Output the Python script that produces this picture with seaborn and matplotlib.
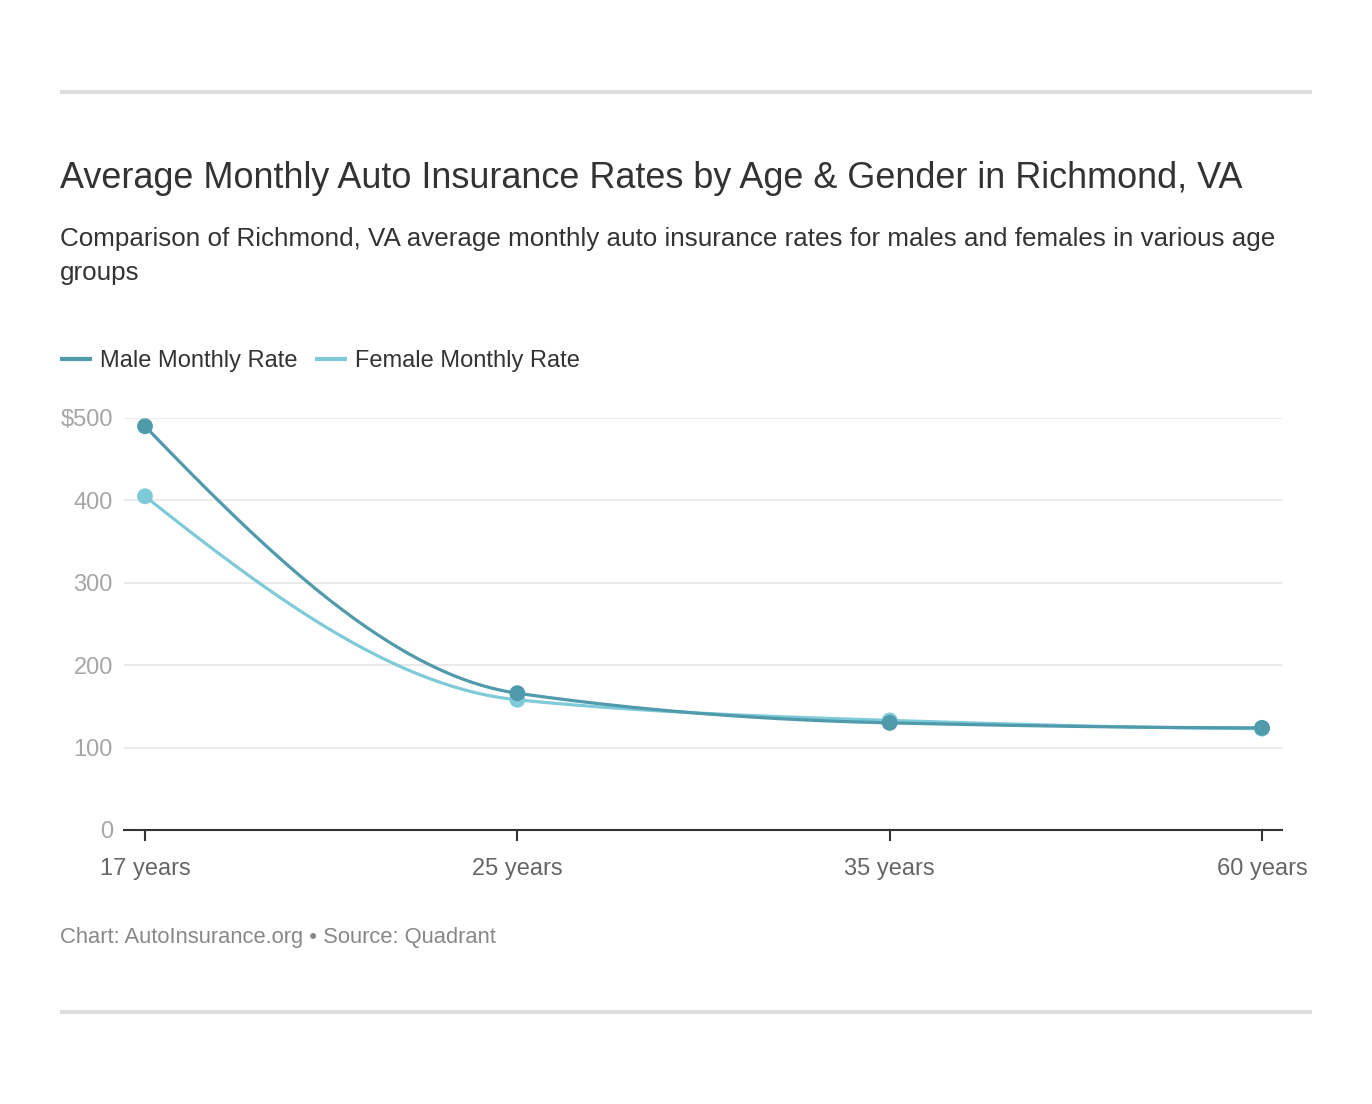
import numpy as np
import pandas as pd
import seaborn as sns
import matplotlib.pyplot as plt
from matplotlib.lines import Line2D

ages = ["17 years", "25 years", "35 years", "60 years"]
male_rate = [490, 166, 130, 124]
female_rate = [405, 158, 133, 123]
series_names = ["Male Monthly Rate", "Female Monthly Rate"]
series_colors = ["#4f9aab", "#7ecad9"]
y_ticks = [0, 100, 200, 300, 400, 500]
y_labels = ["0", "100", "200", "300", "400", "$500"]


def pchip_curve(xs, ys, n=60):
    # monotone cubic between the points, like the smooth line of the original
    xs = np.asarray(xs, float)
    ys = np.asarray(ys, float)
    h = np.diff(xs)
    d = np.diff(ys) / h
    m = np.zeros_like(ys)
    for k in range(1, len(xs) - 1):
        if d[k - 1] * d[k] > 0:
            w1 = 2 * h[k] + h[k - 1]
            w2 = h[k] + 2 * h[k - 1]
            m[k] = (w1 + w2) / (w1 / d[k - 1] + w2 / d[k])
    m[0] = ((2 * h[0] + h[1]) * d[0] - h[0] * d[1]) / (h[0] + h[1])
    if np.sign(m[0]) != np.sign(d[0]):
        m[0] = 0
    m[-1] = ((2 * h[-1] + h[-2]) * d[-1] - h[-1] * d[-2]) / (h[-1] + h[-2])
    if np.sign(m[-1]) != np.sign(d[-1]):
        m[-1] = 0
    out_x, out_y = [], []
    for k in range(len(xs) - 1):
        t = np.linspace(0, 1, n)
        h00 = 2 * t**3 - 3 * t**2 + 1
        h10 = t**3 - 2 * t**2 + t
        h01 = -2 * t**3 + 3 * t**2
        h11 = t**3 - t**2
        out_x.extend(xs[k] + t * h[k])
        out_y.extend(h00 * ys[k] + h10 * h[k] * m[k] + h01 * ys[k + 1] + h11 * h[k] * m[k + 1])
    return out_x, out_y


pos = np.arange(len(ages))
points = pd.DataFrame({
    "x": np.concatenate([pos, pos]),
    "rate": female_rate + male_rate,
    "series": [series_names[1]] * len(ages) + [series_names[0]] * len(ages),
})

curves = []
for name, vals in [(series_names[1], female_rate), (series_names[0], male_rate)]:
    cx, cy = pchip_curve(pos, vals)
    curves.append(pd.DataFrame({"x": cx, "rate": cy, "series": name}))
curves = pd.concat(curves, ignore_index=True)

sns.set_style("white")
plt.rcParams['font.family'] = ['Liberation Sans', 'DejaVu Sans']

fig = plt.figure(figsize=(13.72, 11.04), dpi=100)
ax = fig.add_axes([124 / 1372, 274 / 1104, 1158 / 1372, 412 / 1104])

palette = {series_names[0]: series_colors[0], series_names[1]: series_colors[1]}
for name in [series_names[1], series_names[0]]:
    sub = curves[curves["series"] == name]
    sns.lineplot(data=sub, x="x", y="rate", color=palette[name], linewidth=2.3,
                 sort=False, estimator=None, ax=ax, legend=False)
    sp = points[points["series"] == name]
    sns.scatterplot(data=sp, x="x", y="rate", color=palette[name], s=130,
                    edgecolor="none", ax=ax, legend=False, zorder=3)

ax.set_xlim(-21 / 372.3, 3 + 20 / 372.3)
ax.set_ylim(0, 500)
ax.set_yticks(y_ticks)
ax.set_yticklabels(y_labels)
ax.set_xticks(pos)
ax.set_xticklabels(ages)
ax.set_xlabel("")
ax.set_ylabel("")
for yv in y_ticks[1:]:
    ax.axhline(yv, color="#e6e6e6", linewidth=1.2, zorder=0)
for s in ["top", "right", "left"]:
    ax.spines[s].set_visible(False)
ax.spines["bottom"].set_color("#333333")
ax.spines["bottom"].set_linewidth(1.5)
ax.tick_params(axis="y", left=False, length=0, pad=8, labelsize=17, labelcolor="#a6a6a6")
ax.tick_params(axis="x", bottom=True, length=8, width=1.5, color="#333333", direction="out",
               pad=12, labelsize=17, labelcolor="#666666")

handles = [Line2D([0], [0], color=c, linewidth=3, solid_capstyle="butt") for c in series_colors]
fig.legend(handles, series_names, loc="center left", bbox_to_anchor=(48 / 1372, 1 - 361 / 1104),
           frameon=False, ncol=2, fontsize=17, handlelength=1.35, handletextpad=0.35,
           columnspacing=0.75, borderpad=0, labelcolor="#333333")

fig.text(60 / 1372, 1 - 179 / 1104, "Average Monthly Auto Insurance Rates by Age & Gender in Richmond, VA",
         fontsize=25.9, color="#333333", va="center")
fig.text(60 / 1372, 1 - 256 / 1104,
         "Comparison of Richmond, VA average monthly auto insurance rates for males and females in various age\ngroups",
         fontsize=18.7, color="#333333", va="center", linespacing=1.5)
fig.text(60 / 1372, 1 - 937 / 1104, "Chart: AutoInsurance.org \u2022 Source: Quadrant",
         fontsize=15.8, color="#888888", va="center")

for yy in [92, 1012]:
    fig.add_artist(Line2D([60 / 1372, 1312 / 1372], [1 - yy / 1104, 1 - yy / 1104],
                          color="#dddddd", linewidth=3, solid_capstyle="butt",
                          transform=fig.transFigure))

fig.savefig("out.png", dpi=100, facecolor="white")
